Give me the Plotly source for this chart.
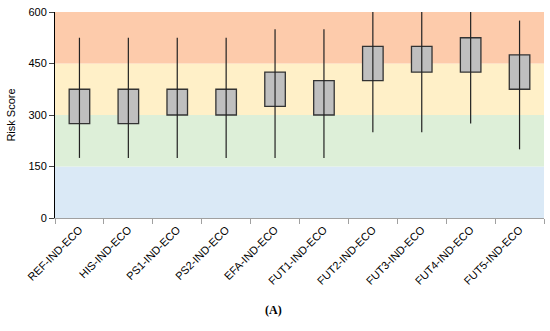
import plotly.graph_objects as go

categories = ["REF-IND-ECO", "HIS-IND-ECO", "PS1-IND-ECO", "PS2-IND-ECO", "EFA-IND-ECO",
              "FUT1-IND-ECO", "FUT2-IND-ECO", "FUT3-IND-ECO", "FUT4-IND-ECO", "FUT5-IND-ECO"]
low = [175, 175, 175, 175, 175, 175, 250, 250, 275, 200]
q1 = [275, 275, 300, 300, 325, 300, 400, 425, 425, 375]
q3 = [375, 375, 375, 375, 425, 400, 500, 500, 525, 475]
high = [525, 525, 525, 525, 550, 550, 600, 600, 600, 575]

band_edges = [0, 150, 300, 450, 600]
band_colors = ["#DAE9F6", "#DDEFD8", "#FFF0C8", "#FDCBAB"]
y_ticks = [0, 150, 300, 450, 600]

wx, wy = [], []
for c, lo, hi in zip(categories, low, high):
    wx += [c, c, None]
    wy += [lo, hi, None]

fig = go.Figure()
fig.add_trace(go.Scatter(x=wx, y=wy, mode="lines", line=dict(color="#222222", width=1.2),
                         showlegend=False, hoverinfo="skip", cliponaxis=False))
fig.add_trace(go.Bar(x=categories, y=[b - a for a, b in zip(q1, q3)], base=q1, width=0.42,
                     marker=dict(color="#BFBFBF", line=dict(color="#333333", width=1.3)),
                     showlegend=False, hoverinfo="skip"))

for i in range(4):
    fig.add_shape(type="rect", xref="paper", yref="y", x0=0, x1=1,
                  y0=band_edges[i], y1=band_edges[i + 1],
                  fillcolor=band_colors[i], line_width=0, layer="below")

fig.update_layout(
    width=550, height=331,
    margin=dict(l=55, r=6, t=12, b=113),
    paper_bgcolor="white", plot_bgcolor="white",
    font=dict(family="Liberation Sans, Arial, sans-serif", size=11, color="#000000"),
    xaxis=dict(type="category", tickangle=-45, showline=True, linecolor="#A0A0A0",
               linewidth=1, ticks="outside", tickson="boundaries", ticklen=5,
               tickcolor="#A0A0A0", showgrid=False, tickfont=dict(size=11)),
    yaxis=dict(range=[0, 600], tickvals=y_ticks, showline=True, linecolor="#000000",
               linewidth=1, ticks="outside", ticklen=5, showgrid=False, zeroline=False,
               title=dict(text="Risk Score", font=dict(size=11), standoff=10),
               tickfont=dict(size=11)),
    annotations=[dict(text="<b>(A)</b>", xref="paper", yref="paper", x=0.447, y=-0.445,
                      showarrow=False, yanchor="middle",
                      font=dict(family="Liberation Serif, Times New Roman, serif", size=12))]
)

fig.write_html("out.html", config={"displayModeBar": False},
               post_script="document.body.style.margin='0';")
